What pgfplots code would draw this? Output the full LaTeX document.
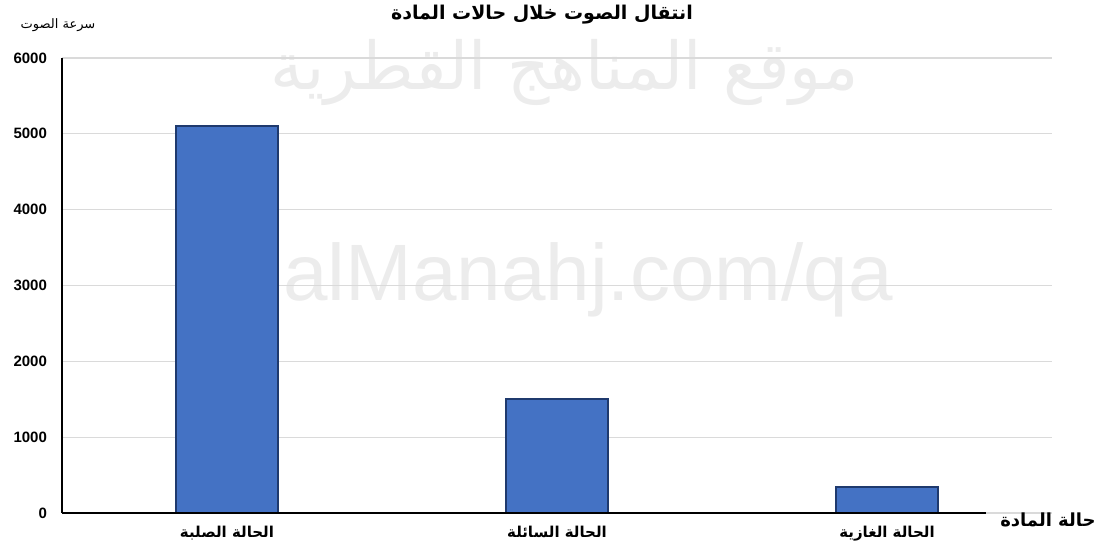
\documentclass[border=0pt]{standalone}
\usepackage{fontspec}
\setmainfont{Liberation Sans}
\newfontfamily\arabicfont[Script=Arabic]{DejaVu Sans}
\usepackage{pgfplots}
\pgfplotsset{compat=1.18}
\TeXXeTstate=1
\definecolor{barblue}{HTML}{4472C4}
\definecolor{baredge}{HTML}{1F3A6E}
\definecolor{gridgray}{HTML}{DADADA}
\definecolor{wm}{HTML}{ECECEC}
\begin{document}
\begin{tikzpicture}
\path[use as bounding box] (0,0) rectangle (550.5pt,-275pt);
% watermark
\node[text=wm, font=\arabicfont\fontsize{33}{33}\selectfont] at (282.5pt,-36pt) {\beginR موقع المناهج القطرية\endR};
\node[text=wm, font=\fontsize{40}{40}\selectfont] at (294pt,-140pt) {alManahj.com/qa};
\begin{axis}[
  at={(31pt,-256.5pt)}, anchor=south west,
  scale only axis, width=495pt, height=227.5pt,
  xmin=-0.5, xmax=2.5, ymin=0, ymax=6000,
  axis lines*=left,
  axis line style={black, line width=1.2pt},
  x axis line style={draw=none},
  ybar, bar width=51pt,
  xtick={0,1,2},
  xticklabels={{\beginR الحالة الصلبة\endR},{\beginR الحالة السائلة\endR},{\beginR الحالة الغازية\endR}},
  xticklabel style={font=\arabicfont\bfseries\fontsize{7.5}{9}\selectfont, yshift=-3pt},
  ytick distance=1000,
  yticklabel style={font=\bfseries\fontsize{7.5}{9}\selectfont, xshift=-4pt},
  /pgf/number format/assume math mode=true,
  /pgf/number format/1000 sep={},
  major tick length=0pt,
  ymajorgrids,
  grid style={gridgray, line width=0.6pt},
  clip=false,
]
\addplot[fill=barblue, draw=baredge, line width=1pt] coordinates {(0,5100) (1,1500) (2,340)};
\draw[black, line width=1.2pt] (axis cs:-0.5,0) -- (axis cs:2.3,0);
\end{axis}
\node[font=\arabicfont\bfseries\fontsize{9.5}{12}\selectfont] at (271pt,-7.5pt) {\beginR انتقال الصوت خلال حالات المادة\endR};
\node[font=\arabicfont\fontsize{6.5}{7}\selectfont] at (29pt,-12.5pt) {\beginR سرعة الصوت\endR};
\node[font=\arabicfont\bfseries\fontsize{9}{10}\selectfont] at (524pt,-260pt) {\beginR حالة المادة\endR};
\end{tikzpicture}
\end{document}
